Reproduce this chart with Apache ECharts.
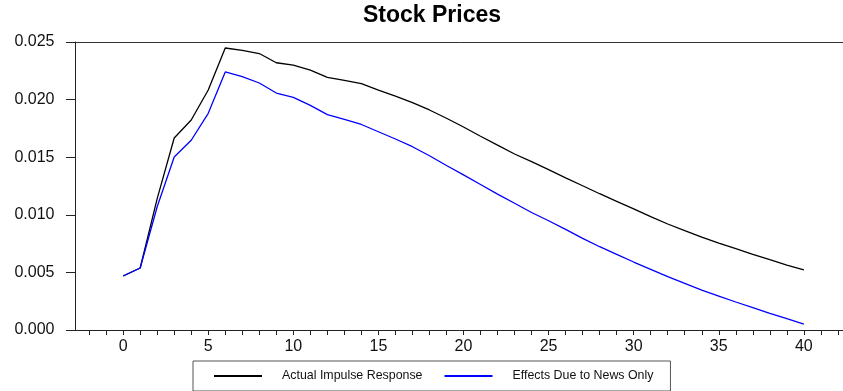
<!DOCTYPE html>
<html>
<head>
<meta charset="utf-8">
<script src="https://cdn.jsdelivr.net/npm/echarts@6/dist/echarts.min.js"></script>
<style>
html,body{margin:0;padding:0;background:#fff;}
#chart{width:843px;height:391px;}
</style>
</head>
<body>
<div id="chart"></div>
<script>
var periods = [0,1,2,3,4,5,6,7,8,9,10,11,12,13,14,15,16,17,18,19,20,21,22,23,24,25,26,27,28,29,30,31,32,33,34,35,36,37,38,39,40];
var actualResponse = [0.00469,0.00538,0.0114,0.01667,0.01823,0.02083,0.02448,0.02428,0.0240,0.0232,0.0230,0.02255,0.02193,0.02167,0.02138,0.02083,0.02031,0.01973,0.0191,0.01838,0.01762,0.01682,0.01605,0.01528,0.01461,0.01392,0.0132,0.01252,0.01183,0.01117,0.01052,0.00984,0.0092,0.00862,0.00807,0.00755,0.00706,0.00657,0.0061,0.00564,0.00522];
var newsOnly = [0.00469,0.00538,0.0107,0.01502,0.01647,0.01881,0.0224,0.0220,0.02144,0.02057,0.0202,0.0195,0.01869,0.01828,0.01784,0.01721,0.01658,0.01591,0.01513,0.01428,0.01347,0.01263,0.0118,0.011,0.0102,0.00948,0.00873,0.00796,0.00723,0.00657,0.0059,0.00527,0.00463,0.00405,0.00347,0.00295,0.00243,0.00194,0.00145,0.00098,0.00052];
var seriesNames = ['Actual Impulse Response', 'Effects Due to News Only'];
var titleText = 'Stock Prices';

function pairs(xs, ys){ return xs.map(function(x,i){ return [x, ys[i]]; }); }

var FONT = "Arial, 'Liberation Sans', sans-serif";
var chart = echarts.init(document.getElementById('chart'), null, {renderer:'canvas'});
chart.setOption({
  animation: false,
  backgroundColor: '#ffffff',
  title: {
    text: titleText,
    left: 363, top: 4, padding: 0,
    textStyle: {fontFamily: FONT, fontSize: 23, fontWeight: 'bold', color: '#000'}
  },
  legend: {
    left: 193, top: 361,
    padding: [9, 17, 9, 20],
    itemWidth: 48, itemHeight: 14, itemGap: 21,
    borderColor: '#555', borderWidth: 1,
    itemStyle: {opacity: 0, borderWidth: 0},
    textStyle: {fontFamily: FONT, fontSize: 12.4, color: '#111', padding: [0,0,0,15]},
    data: seriesNames
  },
  grid: {left: 75.5, right: 0, top: 42, bottom: 61, containLabel: false},
  xAxis: [{
    type: 'value',
    min: -2.8, max: 42.3,
    splitNumber: 45, minInterval: 1, maxInterval: 1,
    axisLine: {show: true, onZero: false, lineStyle: {color: '#222', width: 1}},
    axisTick: {show: true, length: 5, lineStyle: {color: '#222'}},
    axisLabel: {
      margin: 9, color: '#111', fontFamily: FONT, fontSize: 16,
      showMinLabel: false, showMaxLabel: false,
      formatter: function(v){ return (Math.abs(v % 5) < 1e-9) ? String(Math.round(v)) : ''; }
    },
    splitLine: {show: false}
  }, {
    type: 'value', position: 'top',
    min: -2.8, max: 42.3,
    axisLine: {show: true, onZero: false, lineStyle: {color: '#333', width: 1}},
    axisTick: {show: false}, axisLabel: {show: false}, splitLine: {show: false}
  }],
  yAxis: {
    type: 'value',
    min: 0, max: 0.025, interval: 0.005,
    axisLine: {show: true, onZero: false, lineStyle: {color: '#222', width: 1}},
    axisTick: {show: true, length: 9.5, lineStyle: {color: '#222'}},
    axisLabel: {
      margin: 21, color: '#111', fontFamily: FONT, fontSize: 16,
      formatter: function(v){ return v.toFixed(3); }
    },
    splitLine: {show: false}
  },
  series: [{
    name: seriesNames[0], type: 'line', xAxisIndex: 0,
    data: pairs(periods, actualResponse),
    symbol: 'none', smooth: false,
    lineStyle: {color: '#000000', width: 1.3},
    itemStyle: {color: '#000000'}
  }, {
    name: seriesNames[1], type: 'line', xAxisIndex: 0,
    data: pairs(periods, newsOnly),
    symbol: 'none', smooth: false,
    lineStyle: {color: '#0000ff', width: 1.3},
    itemStyle: {color: '#0000ff'}
  }]
});
</script>
</body>
</html>
